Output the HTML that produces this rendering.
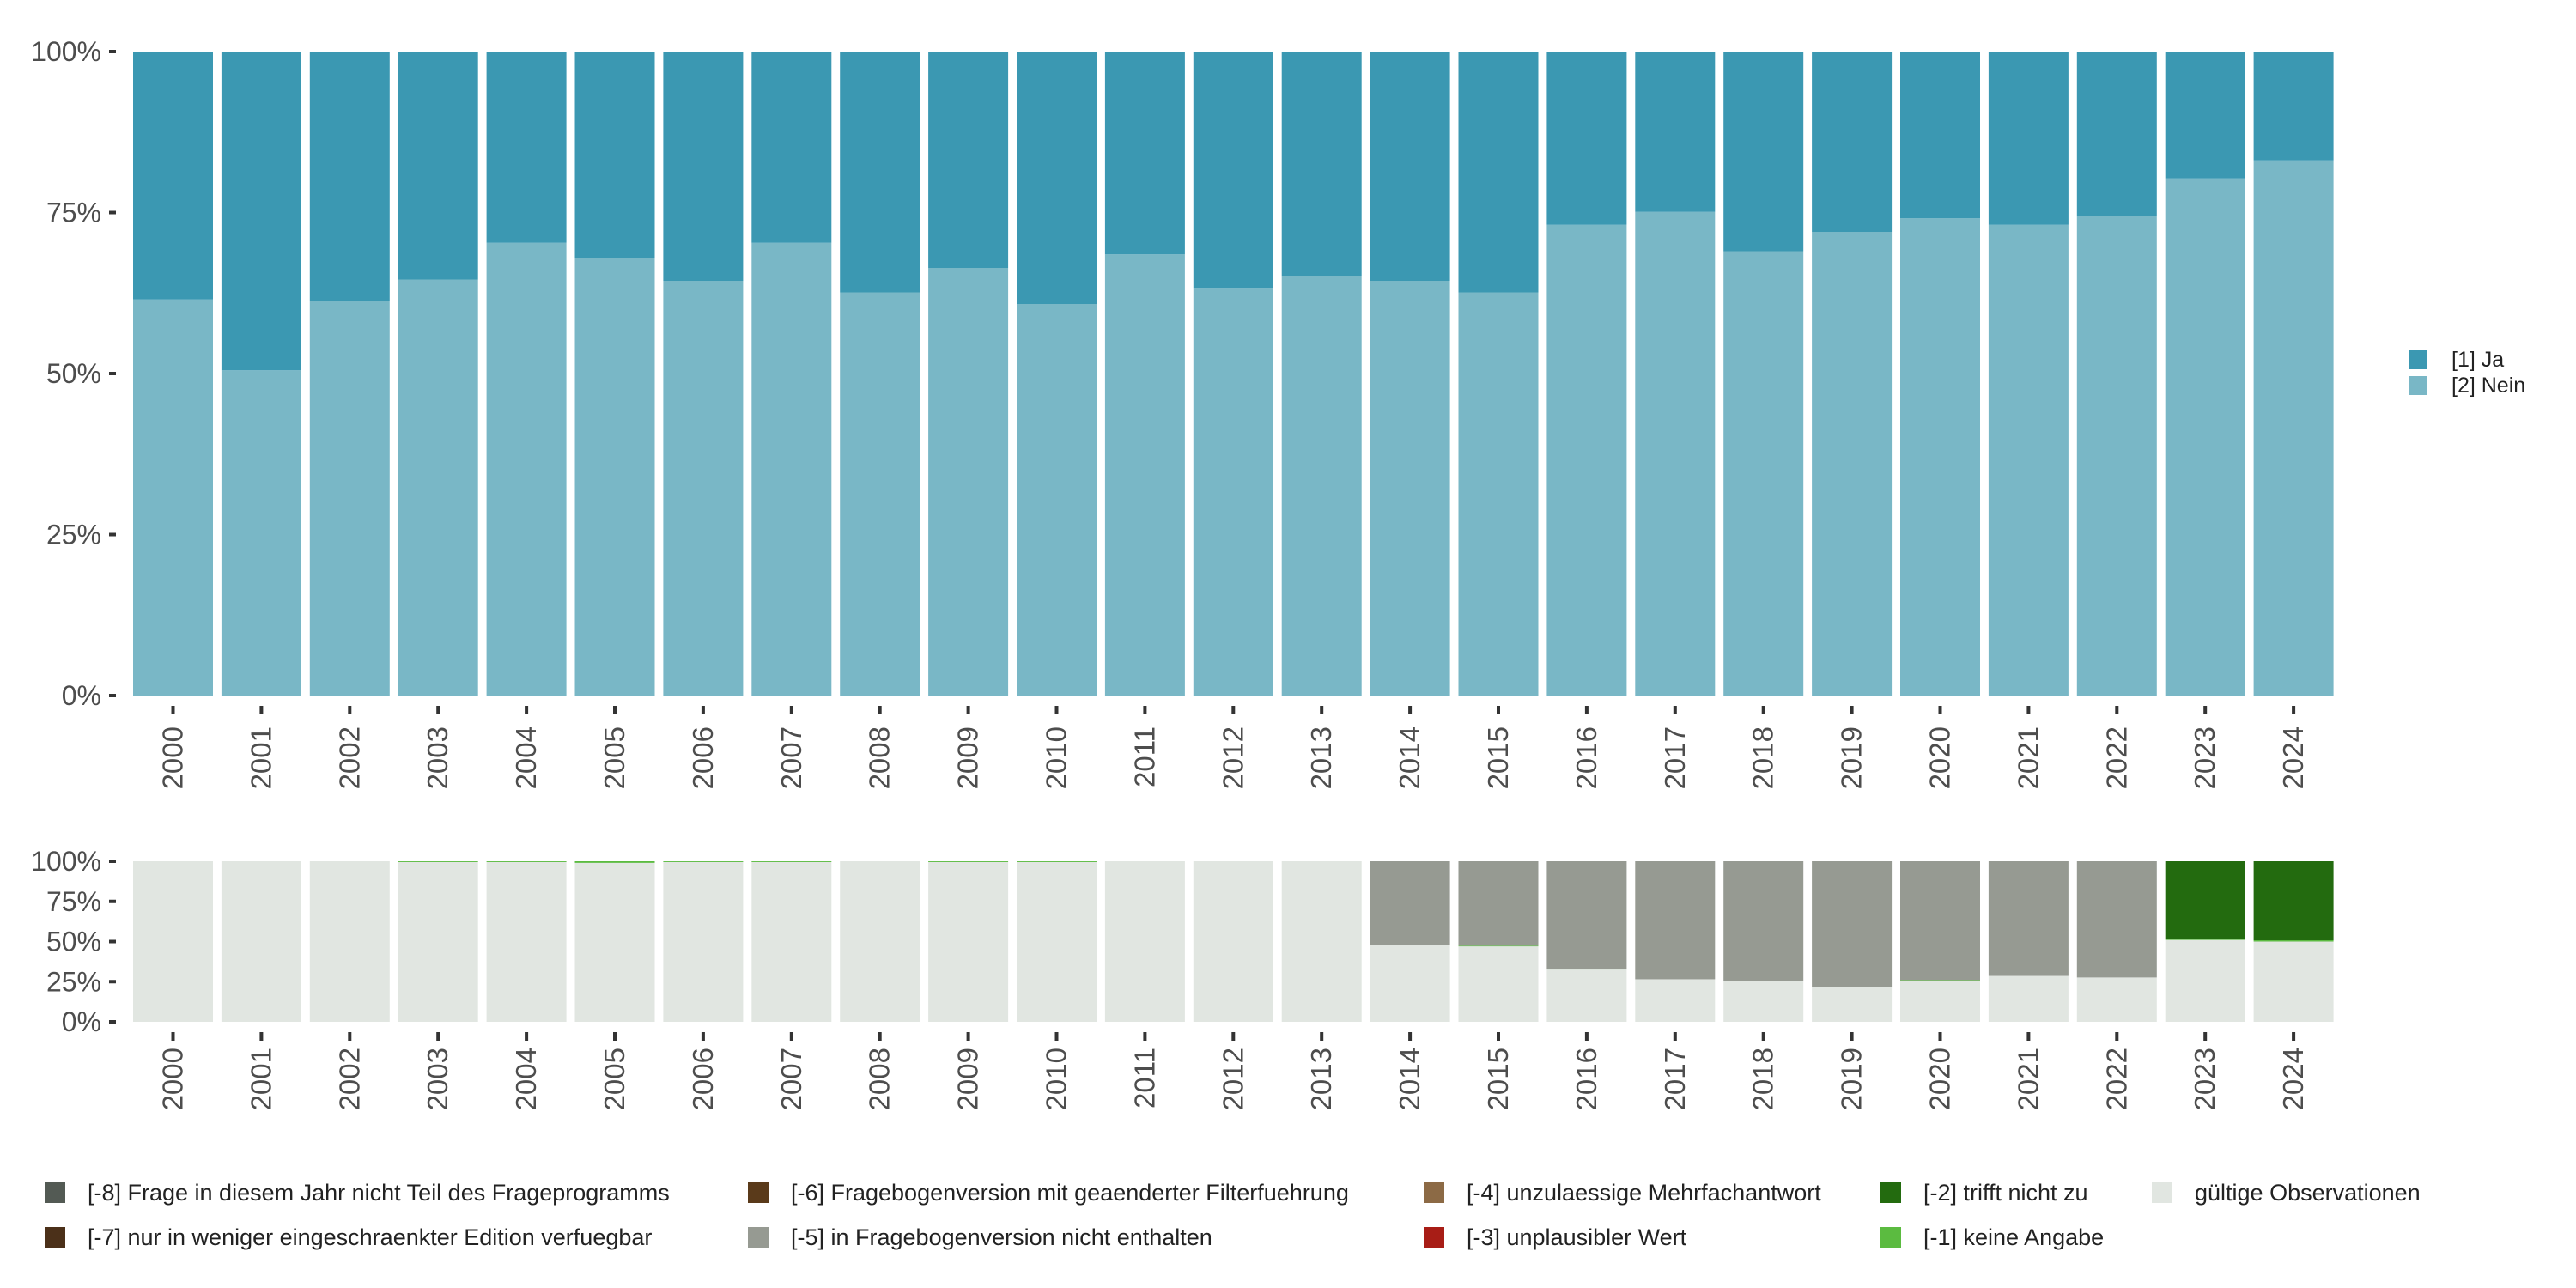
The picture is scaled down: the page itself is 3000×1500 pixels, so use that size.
<!DOCTYPE html>
<html><head><meta charset="utf-8"><style>
body{margin:0;background:#fff}
svg{display:block;font-family:"Liberation Sans",sans-serif}
</style></head><body>
<svg id="c" width="3000" height="1500" viewBox="0 0 3000 1500"></svg>
<script>
const years=["2000","2001","2002","2003","2004","2005","2006","2007","2008","2009","2010","2011","2012","2013","2014","2015","2016","2017","2018","2019","2020","2021","2022","2023","2024"];
const neinPct=[61.5,50.5,61.3,64.6,70.3,67.9,64.4,70.3,62.6,66.4,60.8,68.5,63.3,65.1,64.4,62.6,73.1,75.1,69,72,74.1,73.1,74.4,80.3,83.1];
const validPct=[100,100,100,99.5,99.5,99,99.5,99.5,100,99.5,99.5,100,100,100,48,47,32.6,26.5,25.5,21.4,25.5,28.6,27.6,51,50];
const keineAngabePct=[0,0,0,0.5,0.5,1,0.5,0.5,0,0.5,0.5,0,0,0,0,0.4,0.3,0,0,0,0.5,0,0,0.8,0.8];
const trifftNichtPct=[0,0,0,0,0,0,0,0,0,0,0,0,0,0,0,0,0,0,0,0,0,0,0,48.2,49.2];
const yTicks=["0%","25%","50%","75%","100%"];
const legendLabels=["[-8] Frage in diesem Jahr nicht Teil des Frageprogramms","[-7] nur in weniger eingeschraenkter Edition verfuegbar","[-6] Fragebogenversion mit geaenderter Filterfuehrung","[-5] in Fragebogenversion nicht enthalten","[-4] unzulaessige Mehrfachantwort","[-3] unplausibler Wert","[-2] trifft nicht zu","[-1] keine Angabe","gültige Observationen"];
const legendColors=["#535a54","#4b3019","#5a3a1a","#969a92","#8c6a45","#a81d16","#236b0f","#5bbb40","#e1e6e1"];

const svg=document.getElementById('c');
const NS="http://www.w3.org/2000/svg";
function el(t,a,txt){const e=document.createElementNS(NS,t);for(const k in a)e.setAttribute(k,a[k]);if(txt!=null)e.textContent=txt;svg.appendChild(e);return e;}
const x0=201.5,pitch=102.9,bw=93;
const xc=i=>x0+i*pitch;
const pTop={y0:810,y1:60},pBot={y0:1190,y1:1003};
const ys=(p,v)=>p.y0-(p.y0-p.y1)*v/100;

function axes(p,lblY,name){
  yTicks.forEach((t,k)=>{const y=ys(p,k*25);
    let e=el('rect',{x:127,y:y-2,width:8,height:4,fill:'#333'});
    
    
    e=el('text',{x:118,y:y+11,'text-anchor':'end','font-size':32,fill:'#4d4d4d'},t);
    
    
  });
  years.forEach((yr,i)=>{const x=xc(i);
    let e=el('rect',{x:x-2,y:p.y0+12,width:4,height:10,fill:'#333'});
    
    
    e=el('text',{x:0,y:0,transform:`translate(${x+11},${lblY}) rotate(-90)`,'text-anchor':'end','font-size':33,fill:'#4d4d4d'},yr);
    
    
  });
}
function seg(p,i,from,to,col,name){
  if(to<=from)return;
  const e=el('rect',{x:xc(i)-bw/2,y:ys(p,to),width:bw,height:ys(p,from)-ys(p,to),fill:col});
  
  
}
years.forEach((yr,i)=>{
  seg(pTop,i,0,neinPct[i],'#79b7c6','bar-nein-'+yr);
  seg(pTop,i,neinPct[i],100,'#3b98b2','bar-ja-'+yr);
  let a=validPct[i];
  seg(pBot,i,0,a,'#e1e6e1','bar-valid-'+yr);
  let b=a+keineAngabePct[i];seg(pBot,i,a,b,'#5bbb40','bar-keine-angabe-'+yr);
  let c=b+trifftNichtPct[i];seg(pBot,i,b,c,'#236b0f','bar-trifft-nicht-'+yr);
  seg(pBot,i,c,Math.max(c,100),'#969a92','bar-nicht-enthalten-'+yr);
});
axes(pTop,846,'top');
axes(pBot,1220,'bottom');
[["[1] Ja","#3b98b2"],["[2] Nein","#79b7c6"]].forEach((d,k)=>{const y=408+k*30;
  let e=el('rect',{x:2805,y:y,width:22,height:22,fill:d[1]});
  
  
  e=el('text',{x:2855,y:y+19,'font-size':25,fill:'#222'},d[0]);
  
  
});
const colX=[52,871,1658,2190,2506];
legendLabels.forEach((l,k)=>{const col=Math.floor(k/2),row=k%2;const x=colX[col],y=1377+row*52;
  let e=el('rect',{x:x,y:y,width:24,height:24,fill:legendColors[k]});
  
  
  e=el('text',{x:x+50,y:y+21,'font-size':27,fill:'#222'},l);
  
  
});
</script>
</body></html>
